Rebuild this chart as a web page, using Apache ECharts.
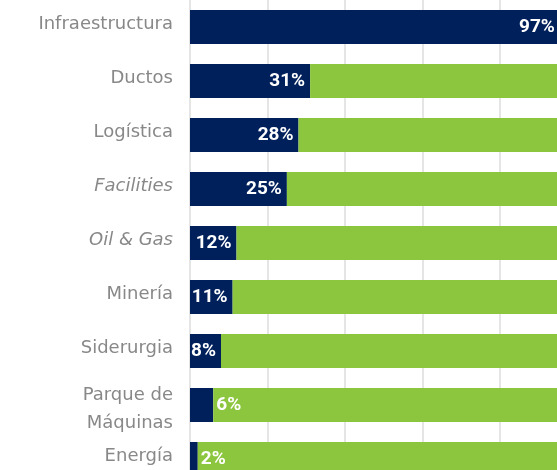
<!DOCTYPE html>
<html>
<head>
<meta charset="utf-8">
<script src="https://cdn.jsdelivr.net/npm/echarts@6/dist/echarts.min.js"></script>
<style>
  html, body { margin:0; padding:0; background:#fff; }
  #chart { width:557px; height:470px; }
</style>
</head>
<body>
<div id="chart"></div>
<script>
// categorias de arriba hacia abajo
var categories = ['Infraestructura', 'Ductos', 'Logística', 'Facilities', 'Oil & Gas', 'Minería', 'Siderurgia', 'Parque de\nMáquinas', 'Energía'];
var italicCats = ['Facilities', 'Oil & Gas'];
// porcentaje azul y resto verde
var navyValues = [97, 31, 28, 25, 12, 11, 8, 6, 2];
var greenValues = [3, 69, 72, 75, 88, 89, 92, 94, 98];
// filas donde la etiqueta va sobre la barra verde
var labelOnGreen = ['Parque de\nMáquinas', 'Energía'];
var xTicks = [0, 20, 40, 60, 80, 100];

var NAVY = '#00205C';
var GREEN = '#8CC63E';

var navyData = navyValues.map(function(v, i){
  var item = { value: v, label: { show: labelOnGreen.indexOf(categories[i]) < 0 } };
  if (i === 0) item.label.distance = 11; // barra cortada por el borde
  return item;
});
var greenData = greenValues.map(function(v, i){
  return { value: v, label: { show: labelOnGreen.indexOf(categories[i]) >= 0 } };
});

var yData = categories.map(function(c){
  if (c.indexOf('\n') >= 0) return { value: c, textStyle: { padding: [8, 0, 0, 0] } };
  return c;
});

var chart = echarts.init(document.getElementById('chart'));
var option = {
  animation: false,
  grid: { left: 190, top: 0, width: 387.5, height: 486, containLabel: false, outerBoundsMode: 'none' },
  xAxis: {
    type: 'value', min: xTicks[0], max: xTicks[xTicks.length-1], interval: 20,
    axisLabel: { show: false }, axisLine: { show: false }, axisTick: { show: false },
    splitLine: { show: true, lineStyle: { color: '#dcdcdc', width: 1.5 } }
  },
  yAxis: {
    type: 'category', inverse: true, data: yData,
    axisLine: { show: false }, axisTick: { show: false },
    axisLabel: {
      color: '#888', fontFamily: 'DejaVu Sans', fontSize: 18, margin: 17,
      lineHeight: 28, padding: [0, 0, 6, 0], align: 'right',
      formatter: function(v){
        return italicCats.indexOf(v) >= 0 ? '{i|' + v + '}' : v;
      },
      rich: { i: { fontStyle: 'italic', color: '#888', fontFamily: 'DejaVu Sans', fontSize: 18 } }
    }
  },
  series: [
    {
      type: 'bar', stack: 'total', data: navyData, barWidth: 34,
      itemStyle: { color: NAVY },
      label: {
        position: 'insideRight', distance: 5, color: '#fff',
        fontFamily: 'Roboto', fontWeight: 'bold', fontSize: 19,
        formatter: '{c}%'
      }
    },
    {
      type: 'bar', stack: 'total', data: greenData, barWidth: 34,
      itemStyle: { color: GREEN },
      label: {
        position: 'insideLeft', distance: 3, color: '#fff',
        fontFamily: 'Roboto', fontWeight: 'bold', fontSize: 19,
        formatter: function(p){ return navyValues[p.dataIndex] + '%'; }
      }
    }
  ]
};
chart.setOption(option);
</script>
</body>
</html>
